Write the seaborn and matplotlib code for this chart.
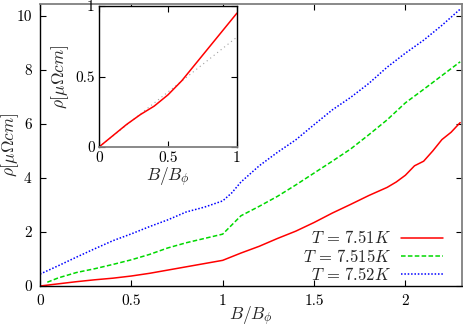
import matplotlib
matplotlib.use("Agg")
import matplotlib.pyplot as plt
import seaborn as sns
import pandas as pd
import numpy as np

# resistivity vs reduced field
B_RED = [0, 0.1, 0.2, 0.3, 0.4, 0.5, 0.6, 0.7, 0.8, 0.9, 1.0, 1.1, 1.2, 1.3, 1.4,
         1.5, 1.6, 1.7, 1.8, 1.9, 1.95, 2.0, 2.05, 2.1, 2.15, 2.2, 2.25, 2.3]
RHO_RED = [0, 0.08, 0.16, 0.23, 0.29, 0.37, 0.47, 0.59, 0.71, 0.83, 0.95, 1.22, 1.47,
           1.76, 2.03, 2.35, 2.7, 3.02, 3.35, 3.65, 3.85, 4.1, 4.45, 4.62, 5.0, 5.42,
           5.69, 6.05]

B_GREEN = [0.04, 0.1, 0.2, 0.3, 0.4, 0.5, 0.6, 0.7, 0.8, 0.9, 1.0, 1.1, 1.2, 1.3,
           1.4, 1.5, 1.6, 1.7, 1.8, 1.9, 2.0, 2.1, 2.2, 2.3]
RHO_GREEN = [0.14, 0.3, 0.5, 0.64, 0.8, 0.97, 1.17, 1.41, 1.6, 1.76, 1.92, 2.6, 2.95,
             3.32, 3.74, 4.18, 4.62, 5.07, 5.6, 6.15, 6.78, 7.28, 7.79, 8.3]

B_BLUE = [0, 0.1, 0.2, 0.3, 0.4, 0.5, 0.6, 0.7, 0.8, 0.9, 1.0, 1.05, 1.1, 1.2, 1.3,
          1.4, 1.5, 1.6, 1.7, 1.8, 1.9, 2.0, 2.1, 2.2, 2.3]
RHO_BLUE = [0.44, 0.75, 1.07, 1.38, 1.68, 1.93, 2.2, 2.45, 2.74, 2.92, 3.15, 3.45,
            3.85, 4.45, 4.95, 5.41, 5.97, 6.52, 6.98, 7.5, 8.1, 8.62, 9.1, 9.65, 10.25]

# linear reference line in the inset
B_LIN = [0, 1.0]
RHO_LIN = [0, 0.78]

LABELS = [r'$T\,=\,7.51K$', r'$T\,=\,7.515K$', r'$T\,=\,7.52K$']
COLORS = ['#ff0000', '#00d800', '#0000ff']

sns.set_theme(style="ticks")
plt.rcParams['font.family'] = ['cmr10']
plt.rcParams['mathtext.fontset'] = 'cm'
plt.rcParams['axes.formatter.use_mathtext'] = True
plt.rcParams['font.size'] = 11

df = pd.concat([
    pd.DataFrame({'B': B_RED, 'rho': RHO_RED, 'T': LABELS[0]}),
    pd.DataFrame({'B': B_GREEN, 'rho': RHO_GREEN, 'T': LABELS[1]}),
    pd.DataFrame({'B': B_BLUE, 'rho': RHO_BLUE, 'T': LABELS[2]}),
])

fig = plt.figure(figsize=(4.63, 3.34), dpi=100)
ax = fig.add_axes([40 / 463, 48 / 334, 422 / 463, 282 / 334])

sns.lineplot(data=df, x='B', y='rho', hue='T', style='T', palette=COLORS,
             dashes=[(None, None), (3, 1.5), (1, 1.2)], linewidth=1.1,
             sort=False, estimator=None, ax=ax)

ax.set_xlim(0, 2.31)
ax.set_ylim(0, 10.44)
ax.set_xticks([0, 0.5, 1, 1.5, 2])
ax.set_xticklabels(['0', '0.5', '1', '1.5', '2'])
ax.set_yticks([0, 2, 4, 6, 8, 10])
ax.set_yticklabels(['0', '2', '4', '6', '8', '10'])
ax.tick_params(direction='in', length=4, width=0.8, top=True, right=True,
               labelsize=11, pad=6, colors='black')
ax.set_xlabel(r'$B/B_\phi$', fontsize=12.5)
ax.set_ylabel(r'$\rho[\mu\Omega cm]$', fontsize=12.5)
ax.xaxis.set_label_coords(0.5, -0.066)
ax.yaxis.set_label_coords(-0.045, 0.5)
for side in ['left', 'bottom']:
    ax.spines[side].set_color('black')
    ax.spines[side].set_linewidth(1.0)
for side in ['top', 'right']:
    ax.spines[side].set_visible(True)
    ax.spines[side].set_color('#808080')
    ax.spines[side].set_linewidth(1.3)

handles, labels = ax.get_legend_handles_labels()
ax.legend(handles, labels, loc='lower right', bbox_to_anchor=(443 / 463, 51 / 334),
          bbox_transform=fig.transFigure, frameon=False, markerfirst=False,
          borderpad=0, borderaxespad=0, handlelength=2.5, handletextpad=0.6,
          labelspacing=0.08, fontsize=12)

# inset: low-field part of the 7.51K curve
ax_in = fig.add_axes([99 / 463, 187 / 334, 138 / 463, 141 / 334])
ax_in.set_facecolor('white')
sns.lineplot(x=B_LIN, y=RHO_LIN, color='#a0a0a0', linewidth=0.8,
             linestyle=(0, (1, 3)), ax=ax_in)
in_mask = [b <= 1.0 for b in B_RED]
sns.lineplot(x=[b for b, m in zip(B_RED, in_mask) if m],
             y=[r for r, m in zip(RHO_RED, in_mask) if m],
             color=COLORS[0], linewidth=1.1, sort=False, estimator=None, ax=ax_in)
ax_in.set_xlim(0, 1)
ax_in.set_ylim(0, 1)
ax_in.set_xticks([0, 0.5, 1])
ax_in.set_xticklabels(['0', '0.5', '1'])
ax_in.set_yticks([0, 0.5, 1])
ax_in.set_yticklabels(['0', '0.5', '1'])
ax_in.tick_params(direction='in', length=4, width=0.8, top=True, right=True,
                  labelsize=11, pad=3, colors='black')
ax_in.set_xlabel(r'$B/B_\phi$', fontsize=12.5)
ax_in.set_ylabel(r'$\rho[\mu\Omega cm]$', fontsize=12.5)
ax_in.xaxis.set_label_coords(0.5, -0.135)
ax_in.yaxis.set_label_coords(-0.2, 0.5)
for side in ['left', 'top', 'right']:
    ax_in.spines[side].set_visible(True)
    ax_in.spines[side].set_color('black')
    ax_in.spines[side].set_linewidth(1.0)
ax_in.spines['bottom'].set_color('#808080')
ax_in.spines['bottom'].set_linewidth(1.3)
if ax_in.get_legend() is not None:
    ax_in.get_legend().remove()

fig.savefig('out.png', dpi=100)
